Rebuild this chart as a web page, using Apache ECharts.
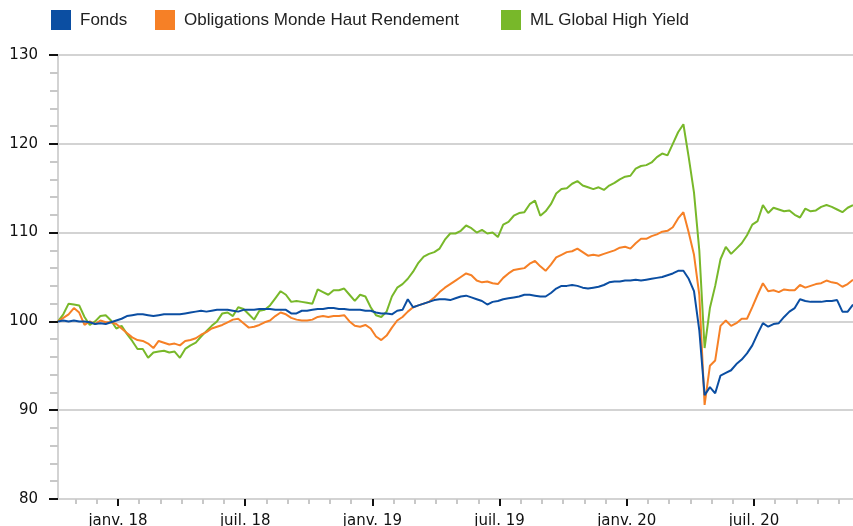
<!DOCTYPE html>
<html>
<head>
<meta charset="utf-8">
<script src="https://cdn.jsdelivr.net/npm/echarts@6/dist/echarts.min.js"></script>
<style>
    html, body {margin: 0; padding: 0; background: #fff;}
    #chart {width: 853px; height: 526px;}
</style>
</head>
<body>
<div id="chart"></div>
<script>
// x is counted in months from janv. 18, one point every week (0.25 month)
let startMonth = -2.83
let monthStep = 0.25

let xTickMonths = [0, 6, 12, 18, 24, 30]
let xTickLabels = ["janv. 18", "juil. 18", "janv. 19", "juil. 19", "janv. 20", "juil. 20"]

let seriesNames = ["Fonds", "Obligations Monde Haut Rendement", "ML Global High Yield"]

let fonds = [
    100.0, 100.1, 100.0, 100.1, 100.0, 100.0, 99.9, 99.7, 99.8, 99.7,
    99.9, 100.1, 100.3, 100.6, 100.7, 100.8, 100.8, 100.7, 100.6, 100.7,
    100.8, 100.8, 100.8, 100.8, 100.9, 101.0, 101.1, 101.2, 101.1, 101.2,
    101.3, 101.3, 101.3, 101.2, 101.1, 101.3, 101.3, 101.3, 101.4, 101.4,
    101.4, 101.3, 101.3, 101.3, 100.9, 100.9, 101.2, 101.2, 101.3, 101.4,
    101.4, 101.5, 101.5, 101.4, 101.4, 101.3, 101.3, 101.3, 101.2, 101.2,
    101.0, 100.9, 100.9, 100.8, 101.2, 101.3, 102.5, 101.6, 101.8, 102.0,
    102.2, 102.4, 102.5, 102.5, 102.4, 102.6, 102.8, 102.9, 102.7, 102.5,
    102.3, 101.9, 102.2, 102.3, 102.5, 102.6, 102.7, 102.8, 103.0, 103.0,
    102.9, 102.8, 102.8, 103.2, 103.7, 104.0, 104.0, 104.1, 104.0, 103.8,
    103.7, 103.8, 103.9, 104.1, 104.4, 104.5, 104.5, 104.6, 104.6, 104.7,
    104.6, 104.7, 104.8, 104.9, 105.0, 105.2, 105.4, 105.7, 105.7, 104.8,
    103.4, 99.0, 91.7, 92.6, 91.9, 93.9, 94.2, 94.5, 95.2, 95.7,
    96.4, 97.3, 98.6, 99.8, 99.4, 99.7, 99.8, 100.5, 101.1, 101.5,
    102.5, 102.3, 102.2, 102.2, 102.2, 102.3, 102.3, 102.4, 101.1, 101.1, 101.9
]

let obligations = [
    100.0, 100.4, 100.8, 101.5, 101.0, 99.6, 100.0, 99.7, 100.1, 99.9,
    99.9, 99.7, 99.2, 98.7, 98.2, 97.9, 97.8, 97.5, 97.0, 97.8,
    97.6, 97.4, 97.5, 97.3, 97.8, 97.9, 98.1, 98.5, 98.8, 99.2,
    99.4, 99.6, 99.9, 100.2, 100.3, 99.8, 99.3, 99.4, 99.6, 99.9,
    100.1, 100.6, 101.0, 100.8, 100.4, 100.2, 100.1, 100.1, 100.2, 100.5,
    100.6, 100.5, 100.6, 100.6, 100.7, 100.0, 99.5, 99.4, 99.6, 99.2,
    98.3, 97.9, 98.4, 99.3, 100.1, 100.5, 101.1, 101.6, 101.8, 102.0,
    102.2, 102.7, 103.3, 103.8, 104.2, 104.6, 105.0, 105.4, 105.2, 104.6,
    104.4, 104.5, 104.3, 104.2, 104.9, 105.4, 105.8, 105.9, 106.0, 106.5,
    106.8, 106.2, 105.7, 106.4, 107.2, 107.5, 107.8, 107.9, 108.2, 107.8,
    107.4, 107.5, 107.4, 107.6, 107.8, 108.0, 108.3, 108.4, 108.2, 108.8,
    109.3, 109.3, 109.6, 109.8, 110.1, 110.2, 110.6, 111.6, 112.3, 110.0,
    107.5, 103.0, 90.6, 95.0, 95.6, 99.5, 100.1, 99.5, 99.8, 100.3,
    100.3, 101.6, 103.0, 104.3, 103.4, 103.5, 103.3, 103.6, 103.5, 103.5,
    104.1, 103.8, 104.0, 104.2, 104.3, 104.6, 104.4, 104.3, 103.9, 104.2, 104.7
]

let mlHighYield = [
    100.0, 100.8, 102.0, 101.9, 101.8, 100.5, 99.6, 100.0, 100.6, 100.7,
    100.1, 99.2, 99.5, 98.6, 97.8, 96.9, 96.9, 95.9, 96.5, 96.6,
    96.7, 96.5, 96.6, 95.9, 96.9, 97.3, 97.6, 98.3, 98.9, 99.5,
    100.0, 100.9, 101.0, 100.6, 101.6, 101.4, 100.8, 100.2, 101.2, 101.3,
    101.8, 102.6, 103.4, 103.0, 102.2, 102.3, 102.2, 102.1, 102.0, 103.6,
    103.3, 103.0, 103.5, 103.5, 103.7, 103.0, 102.3, 103.0, 102.8, 101.6,
    100.7, 100.5, 101.1, 102.8, 103.8, 104.2, 104.8, 105.6, 106.6, 107.3,
    107.6, 107.8, 108.2, 109.2, 109.9, 109.9, 110.2, 110.8, 110.5, 110.0,
    110.3, 109.9, 110.0, 109.5, 110.9, 111.2, 111.9, 112.2, 112.3, 113.2,
    113.6, 111.9, 112.4, 113.2, 114.4, 114.9, 115.0, 115.5, 115.8, 115.3,
    115.1, 114.9, 115.1, 114.8, 115.3, 115.6, 116.0, 116.3, 116.4, 117.2,
    117.5, 117.6, 117.9, 118.5, 118.9, 118.7, 120.0, 121.3, 122.2, 118.5,
    114.5, 108.0, 97.0, 101.5, 104.0, 107.0, 108.4, 107.6, 108.2, 108.8,
    109.7, 110.9, 111.3, 113.1, 112.2, 112.8, 112.6, 112.4, 112.5, 112.0,
    111.7, 112.7, 112.4, 112.5, 112.9, 113.1, 112.9, 112.6, 112.3, 112.8, 113.1
]

let colors = ["#0b4ea2", "#f68026", "#78b82a"]
let gridGray = "#d3d3d3"

function toPoints(values) {
    return values.map(function (v, i) {
        return [startMonth + i * monthStep, v]
    })
}

let minorMonths = []
for (let m = -2; m <= 34; m++) {
    if (m % 6 !== 0) {
        minorMonths.push(m)
    }
}

let legendBase = {
    top: 10,
    padding: 0,
    icon: "rect",
    itemWidth: 20,
    itemHeight: 20,
    selectedMode: false,
    textStyle: {
        fontFamily: "Liberation Sans",
        fontSize: 17,
        color: "#222",
        padding: [0, 0, 0, 4]
    }
}

let chart = echarts.init(document.getElementById("chart"))

let option = {
    animation: false,
    color: colors,
    legend: [
        Object.assign({left: 51, data: [seriesNames[0]]}, legendBase),
        Object.assign({left: 155, data: [seriesNames[1]]}, legendBase),
        Object.assign({left: 501, data: [seriesNames[2]]}, legendBase)
    ],
    grid: {
        left: 58,
        right: 0,
        top: 55,
        bottom: 27,
        containLabel: false,
        outerBoundsMode: "none"
    },
    xAxis: [{
        type: "value",
        min: -2.83,
        max: 34.67,
        axisLine: {onZero: false, lineStyle: {color: gridGray, width: 2}},
        axisTick: {
            customValues: xTickMonths,
            length: 7,
            lineStyle: {color: "#111", width: 2}
        },
        axisLabel: {
            customValues: xTickMonths,
            margin: 15,
            fontFamily: "DejaVu Sans",
            fontSize: 15,
            color: "#111",
            formatter: function (value) {
                let idx = xTickMonths.indexOf(Math.round(value))
                return idx >= 0 ? xTickLabels[idx] : ""
            }
        },
        splitLine: {show: false}
    }, {
        type: "value",
        position: "bottom",
        min: -2.83,
        max: 34.67,
        axisLine: {show: false, onZero: false},
        axisTick: {
            customValues: minorMonths,
            length: 5,
            lineStyle: {color: "#c8c8c8", width: 2}
        },
        axisLabel: {show: false},
        splitLine: {show: false}
    }],
    yAxis: {
        type: "value",
        min: 80,
        max: 130,
        interval: 10,
        axisLine: {show: true, onZero: false, lineStyle: {color: gridGray, width: 2}},
        axisTick: {show: true, length: 9, lineStyle: {color: "#111", width: 2}},
        minorTick: {show: true, splitNumber: 5, length: 8, lineStyle: {color: "#c8c8c8", width: 2}},
        axisLabel: {
            margin: 20,
            fontFamily: "DejaVu Sans",
            fontSize: 15,
            color: "#111"
        },
        splitLine: {lineStyle: {color: gridGray, width: 2}}
    },
    series: [{
        name: seriesNames[2],
        type: "line",
        showSymbol: false,
        color: colors[2],
        lineStyle: {width: 2},
        data: toPoints(mlHighYield)
    }, {
        name: seriesNames[1],
        type: "line",
        showSymbol: false,
        color: colors[1],
        lineStyle: {width: 2},
        data: toPoints(obligations)
    }, {
        name: seriesNames[0],
        type: "line",
        showSymbol: false,
        color: colors[0],
        lineStyle: {width: 2},
        data: toPoints(fonds)
    }]
}

chart.setOption(option)
</script>
</body>
</html>
